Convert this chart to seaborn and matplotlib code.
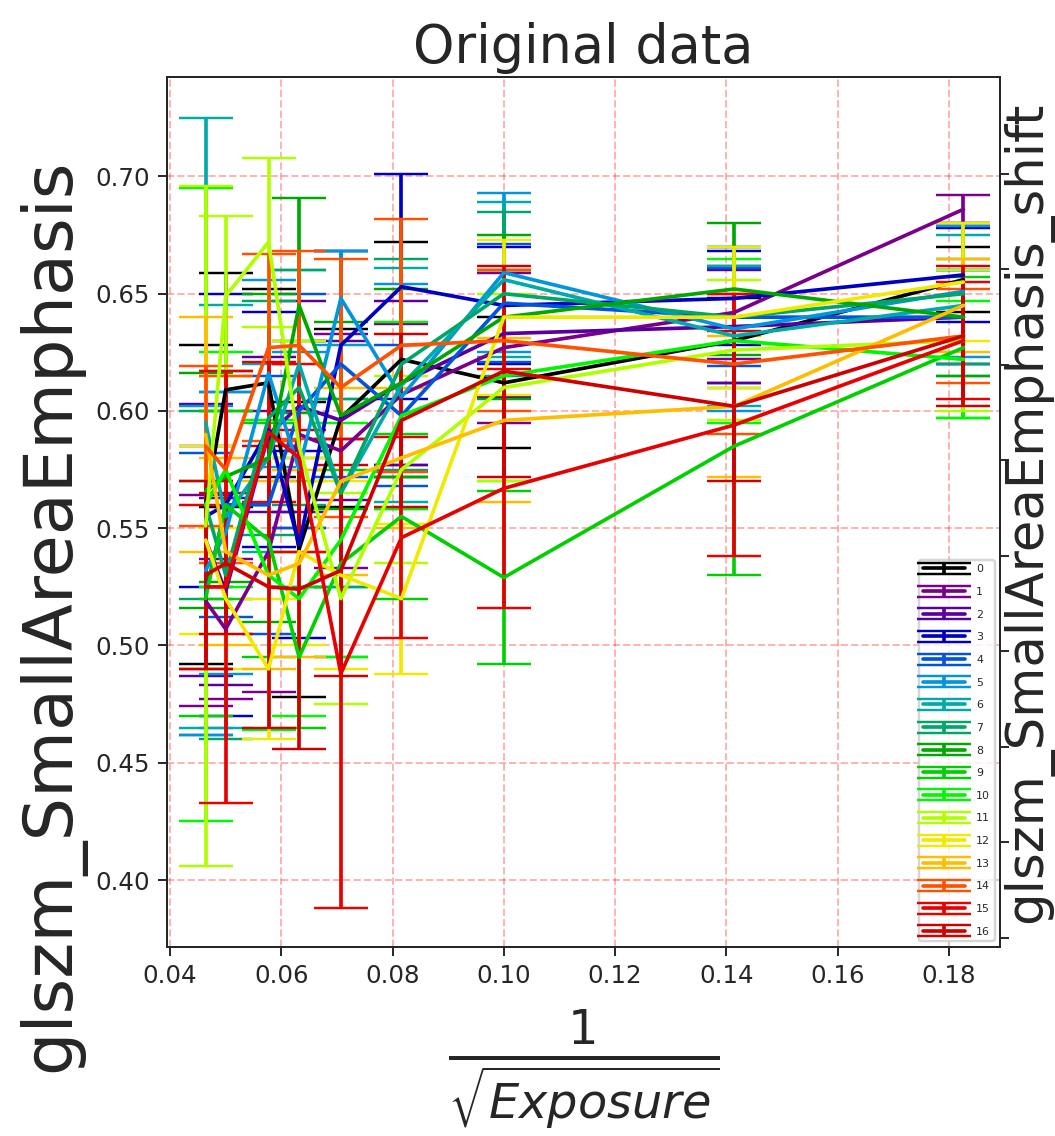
import numpy as np
import seaborn as sns
import matplotlib.pyplot as plt

# x = 1/sqrt(exposure)
inv_sqrt_exposure = [0.0464, 0.0500, 0.0577, 0.0632, 0.0707, 0.0816, 0.1000, 0.1414, 0.1826]
series_labels = [str(i) for i in range(17)]

sae_mean = [
    [0.560, 0.609, 0.612, 0.541, 0.597, 0.622, 0.612, 0.630, 0.656],
    [0.519, 0.507, 0.540, 0.590, 0.583, 0.607, 0.627, 0.642, 0.686],
    [0.545, 0.523, 0.590, 0.602, 0.596, 0.612, 0.633, 0.636, 0.640],
    [0.555, 0.560, 0.592, 0.543, 0.628, 0.653, 0.645, 0.648, 0.658],
    [0.522, 0.560, 0.560, 0.600, 0.620, 0.598, 0.646, 0.640, 0.640],
    [0.532, 0.548, 0.616, 0.575, 0.648, 0.606, 0.659, 0.635, 0.651],
    [0.595, 0.555, 0.580, 0.620, 0.565, 0.611, 0.656, 0.632, 0.645],
    [0.560, 0.530, 0.597, 0.610, 0.565, 0.620, 0.650, 0.640, 0.650],
    [0.566, 0.572, 0.580, 0.645, 0.598, 0.612, 0.640, 0.652, 0.640],
    [0.520, 0.560, 0.545, 0.495, 0.535, 0.555, 0.529, 0.585, 0.627],
    [0.560, 0.575, 0.530, 0.520, 0.545, 0.598, 0.615, 0.630, 0.622],
    [0.551, 0.649, 0.672, 0.585, 0.520, 0.575, 0.610, 0.626, 0.630],
    [0.545, 0.520, 0.490, 0.540, 0.530, 0.520, 0.640, 0.640, 0.655],
    [0.590, 0.540, 0.530, 0.535, 0.570, 0.580, 0.596, 0.602, 0.645],
    [0.585, 0.575, 0.627, 0.628, 0.610, 0.628, 0.630, 0.620, 0.632],
    [0.525, 0.525, 0.591, 0.580, 0.488, 0.546, 0.567, 0.594, 0.630],
    [0.530, 0.535, 0.525, 0.524, 0.532, 0.596, 0.617, 0.602, 0.632],
]

sae_err = [
    [0.068, 0.050, 0.040, 0.063, 0.038, 0.050, 0.028, 0.018, 0.014],
    [0.045, 0.030, 0.060, 0.040, 0.050, 0.030, 0.032, 0.020, 0.006],
    [0.058, 0.040, 0.033, 0.045, 0.034, 0.035, 0.027, 0.024, 0.020],
    [0.030, 0.090, 0.050, 0.040, 0.040, 0.048, 0.025, 0.020, 0.020],
    [0.060, 0.048, 0.055, 0.050, 0.048, 0.030, 0.025, 0.021, 0.020],
    [0.070, 0.060, 0.040, 0.050, 0.020, 0.048, 0.034, 0.035, 0.028],
    [0.130, 0.090, 0.040, 0.040, 0.040, 0.050, 0.033, 0.030, 0.030],
    [0.040, 0.070, 0.050, 0.050, 0.040, 0.045, 0.035, 0.030, 0.030],
    [0.050, 0.045, 0.070, 0.046, 0.040, 0.040, 0.035, 0.028, 0.025],
    [0.050, 0.040, 0.050, 0.030, 0.040, 0.035, 0.037, 0.055, 0.030],
    [0.135, 0.050, 0.066, 0.050, 0.050, 0.040, 0.045, 0.035, 0.025],
    [0.145, 0.034, 0.036, 0.045, 0.045, 0.040, 0.040, 0.030, 0.030],
    [0.040, 0.030, 0.030, 0.040, 0.040, 0.032, 0.033, 0.030, 0.025],
    [0.050, 0.040, 0.040, 0.040, 0.040, 0.030, 0.035, 0.030, 0.020],
    [0.034, 0.040, 0.040, 0.040, 0.055, 0.054, 0.030, 0.030, 0.020],
    [0.035, 0.092, 0.030, 0.040, 0.100, 0.043, 0.051, 0.056, 0.025],
    [0.040, 0.030, 0.060, 0.068, 0.045, 0.037, 0.045, 0.032, 0.030],
]

sns.set_style('ticks')
plt.rcParams['font.family'] = ['DejaVu Sans']
plt.rcParams['mathtext.fontset'] = 'dejavusans'

palette = sns.color_palette(list(plt.cm.nipy_spectral(np.arange(17) / 17)))

fig = plt.figure(figsize=(1055 / 176, 1136 / 176), dpi=176)
ax = fig.add_axes([0.158, 0.1667, 0.79, 0.7653])

for lab, m, e, c in zip(series_labels, sae_mean, sae_err, palette):
    ax.errorbar(inv_sqrt_exposure, m, yerr=e, color=c, capsize=11, label=lab, lw=1.5)

ax.set_xlim(0.0394, 0.1892)
ax.set_ylim(0.3716, 0.7423)
ax.set_xticks([0.04, 0.06, 0.08, 0.10, 0.12, 0.14, 0.16, 0.18])
ax.grid(True, color='r', ls='--', alpha=0.3)
ax.set_title('Original data', fontsize=21.5)
ax.set_xlabel(r'$\frac{1}{\sqrt{Exposure}}$', fontsize=28, labelpad=8)
ax.set_ylabel('glszm_SmallAreaEmphasis', fontsize=28)
ax.yaxis.label.set_y(0.3815)
ax.legend(loc='lower right', fontsize=4.5, handlelength=3.8, handletextpad=1.0,
          labelspacing=1.15)

ax2 = ax.twinx()
ax2.set_ylim(-0.094, 9.01)
ax2.set_yticks(range(9))
ax2.tick_params(labelright=False)
ax2.set_ylabel('glszm_SmallAreaEmphasis_shift', fontsize=21)
ax2.yaxis.set_label_coords(1.002, 0.5)

fig.savefig('out.png', dpi=176)
